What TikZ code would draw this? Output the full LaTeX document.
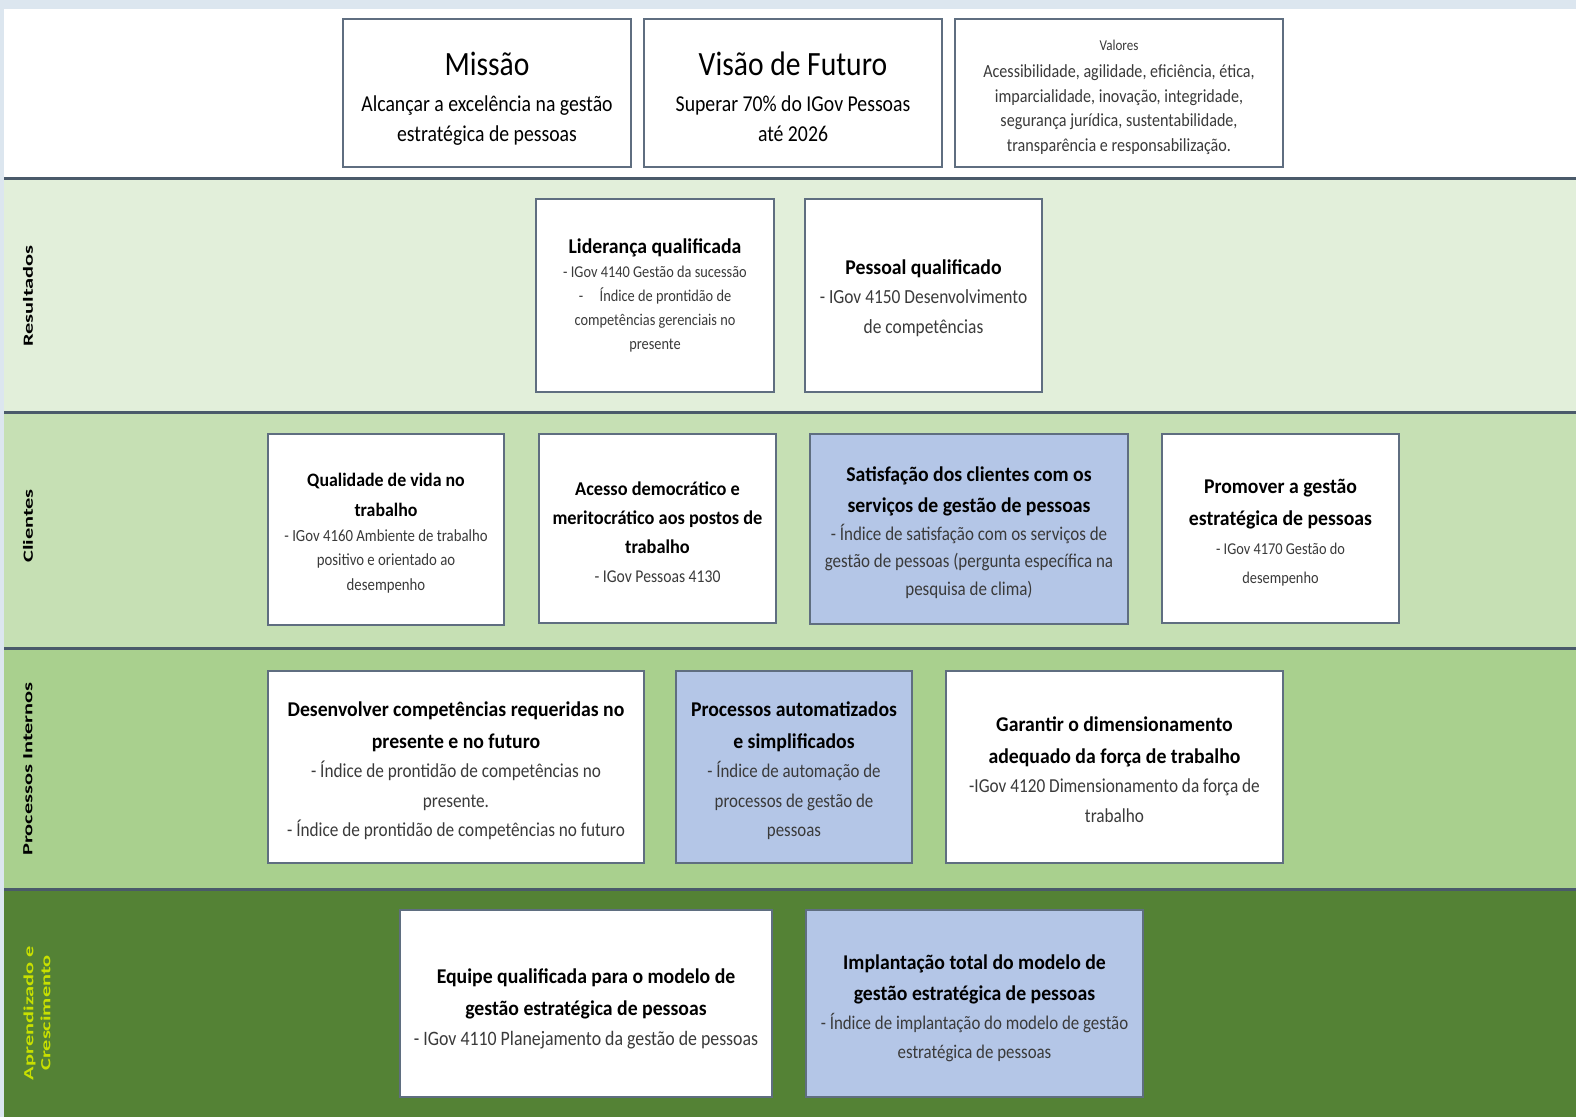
\documentclass[tikz,border=0pt]{standalone}
\usepackage{fontspec}
\setmainfont{Carlito}[FakeStretch=0.87]
\newfontfamily\titfont{Carlito}[FakeStretch=0.94]
\newfontfamily\labfont{Carlito}[FakeStretch=1.6]
\newcommand{\tsz}[2]{\fontsize{#1}{#2}\selectfont}
\newcommand{\tstrut}[1]{\rule{0pt}{#1}}
\newcommand{\ttl}[1]{{\titfont\bfseries\color{black}#1}}
\definecolor{topstrip}{HTML}{DCE6EF}
\definecolor{bandA}{HTML}{E2EFDA}
\definecolor{bandB}{HTML}{C6E0B4}
\definecolor{bandC}{HTML}{A9D08E}
\definecolor{bandD}{HTML}{548235}
\definecolor{bandline}{HTML}{4A5A6A}
\definecolor{boxline}{HTML}{5F6E80}
\definecolor{boxblue}{HTML}{B4C6E7}
\definecolor{subtext}{HTML}{3A3A3A}
\definecolor{lablime}{HTML}{C8E000}
\tikzset{
  sbox/.style={draw=boxline, line width=2pt, fill=white, inner sep=0pt, align=center, text=black},
  bbox/.style={sbox, fill=boxblue},
  sidelab/.style={rotate=90, font=\labfont\bfseries\tsz{14}{17}, text=black, align=center},
  sep/.style={draw=bandline, line width=3pt}
}
\begin{document}
\begin{tikzpicture}[x=1pt,y=-1pt]
\useasboundingbox (0,0) rectangle (1576,1117);
% background
\fill[topstrip] (0,0) rectangle (1576,1117);
\fill[white] (4,9) rectangle (1576,178);
\fill[bandA] (4,178) rectangle (1576,412);
\fill[bandB] (4,412) rectangle (1576,648);
\fill[bandC] (4,648) rectangle (1576,889);
\fill[bandD] (4,889) rectangle (1576,1117);
\draw[sep] (4,178) -- (1576,178);
\draw[sep] (4,412) -- (1576,412);
\draw[sep] (4,648) -- (1576,648);
\draw[sep] (4,889) -- (1576,889);
% side labels
\node[sidelab] (lres) at (28,296) {Resultados};
\node[sidelab] (lcli) at (28,526) {Clientes};
\node[sidelab] (lpro) at (28,769) {Processos Internos};
\node[sidelab, text=lablime, font=\labfont\bfseries\tsz{14}{17}] (lapr) at (37,1013) {Aprendizado e\\Crescimento};
% top row
\node[sbox, minimum width=288pt, minimum height=148pt, font=\tsz{22.7}{30}] (missao) at (487,93)
  {{\tsz{34}{40}\tstrut{35pt}Missão}\\[6pt]Alcançar a excelência na gestão\\estratégica de pessoas};
\node[sbox, minimum width=298pt, minimum height=148pt, font=\tsz{22.7}{30}] (visao) at (793,93)
  {{\tsz{34}{40}\tstrut{32pt}Visão de Futuro}\\[6pt]Superar 70\% do IGov Pessoas\\até 2026};
\node[sbox, minimum width=328pt, minimum height=148pt, font=\tsz{18.5}{24.5}, text=subtext] (valores) at (1119,93)
  {{\tsz{15}{20}\tstrut{19pt}Valores}\\[3pt]Acessibilidade, agilidade, eficiência, ética,\\imparcialidade, inovação, integridade,\\segurança jurídica, sustentabilidade,\\transparência e responsabilização.};
% Resultados
\node[sbox, minimum width=238pt, minimum height=193pt, font=\tsz{16.5}{24}, text=subtext] (lider) at (655,295.5)
  {{\tsz{21}{24}\ttl{Liderança qualificada}}\\- IGov 4140 Gestão da sucessão\\-\quad Índice de prontidão de\\competências gerenciais no\\presente};
\node[sbox, minimum width=237pt, minimum height=193pt, font=\tsz{20}{29.5}, text=subtext] (pessoal) at (923.5,295.5)
  {{\tsz{21}{29}\tstrut{20pt}\ttl{Pessoal qualificado}}\\- IGov 4150 Desenvolvimento\\de competências};
% Clientes
\node[sbox, minimum width=236pt, minimum height=191pt, font=\tsz{17}{24.5}, text=subtext] (qualid) at (386,529.5)
  {{\tsz{19}{30}\tstrut{20pt}\ttl{Qualidade de vida no}}\\[6pt]{\tsz{19}{30}\ttl{trabalho}}\\- IGov 4160 Ambiente de trabalho\\positivo e orientado ao\\desempenho};
\node[sbox, minimum width=237pt, minimum height=189pt, font=\tsz{19.5}{29}] (acesso) at (657.5,528.5)
  {\tstrut{22pt}\ttl{Acesso democrático e}\\\ttl{meritocrático aos postos de}\\\ttl{trabalho}\\{\tsz{18}{29}\color{subtext}- IGov Pessoas 4130}};
\node[bbox, minimum width=318pt, minimum height=190pt, font=\tsz{19.5}{27.5}, text=subtext] (satisf) at (969,529)
  {{\tsz{21}{32}\tstrut{22pt}\ttl{Satisfação dos clientes com os}}\\[4pt]{\tsz{21}{32}\ttl{serviços de gestão de pessoas}}\\- Índice de satisfação com os serviços de\\gestão de pessoas (pergunta específica na\\pesquisa de clima)};
\node[sbox, minimum width=237pt, minimum height=189pt, font=\tsz{16.5}{29}, text=subtext] (promover) at (1280.5,528.5)
  {{\tsz{21}{32}\tstrut{22pt}\ttl{Promover a gestão}}\\[3pt]{\tsz{21}{32}\ttl{estratégica de pessoas}}\\- IGov 4170 Gestão do\\desempenho};
% Processos internos
\node[sbox, minimum width=376pt, minimum height=192pt, font=\tsz{19.8}{29.5}, text=subtext] (desenv) at (456,767)
  {{\tsz{21}{32}\tstrut{23pt}\ttl{Desenvolver competências requeridas no}}\\[2pt]{\tsz{21}{32}\ttl{presente e no futuro}}\\- Índice de prontidão de competências no\\presente.\\- Índice de prontidão de competências no futuro};
\node[bbox, minimum width=236pt, minimum height=192pt, font=\tsz{19.4}{29.5}, text=subtext] (procauto) at (794,767)
  {{\tsz{21}{32}\tstrut{23pt}\ttl{Processos automatizados}}\\[2pt]{\tsz{21}{32}\ttl{e simplificados}}\\- Índice de automação de\\processos de gestão de\\pessoas};
\node[sbox, minimum width=337pt, minimum height=192pt, font=\tsz{19.8}{29.5}, text=subtext] (garantir) at (1114.5,767)
  {{\tsz{21}{32}\tstrut{20pt}\ttl{Garantir o dimensionamento}}\\[2pt]{\tsz{21}{32}\ttl{adequado da força de trabalho}}\\-IGov 4120 Dimensionamento da força de\\trabalho};
% Aprendizado e crescimento
\node[sbox, minimum width=372pt, minimum height=187pt, font=\tsz{20.5}{30}, text=subtext] (equipe) at (586,1003.5)
  {{\tsz{21}{32}\tstrut{25pt}\ttl{Equipe qualificada para o modelo de}}\\[2pt]{\tsz{21}{32}\ttl{gestão estratégica de pessoas}}\\- IGov 4110 Planejamento da gestão de pessoas};
\node[bbox, minimum width=337pt, minimum height=187pt, font=\tsz{19.4}{29}, text=subtext] (implant) at (974.5,1003.5)
  {{\tsz{21}{32}\tstrut{24pt}\ttl{Implantação total do modelo de}}\\[2pt]{\tsz{21}{32}\ttl{gestão estratégica de pessoas}}\\- Índice de implantação do modelo de gestão\\estratégica de pessoas};
\end{tikzpicture}
\end{document}
